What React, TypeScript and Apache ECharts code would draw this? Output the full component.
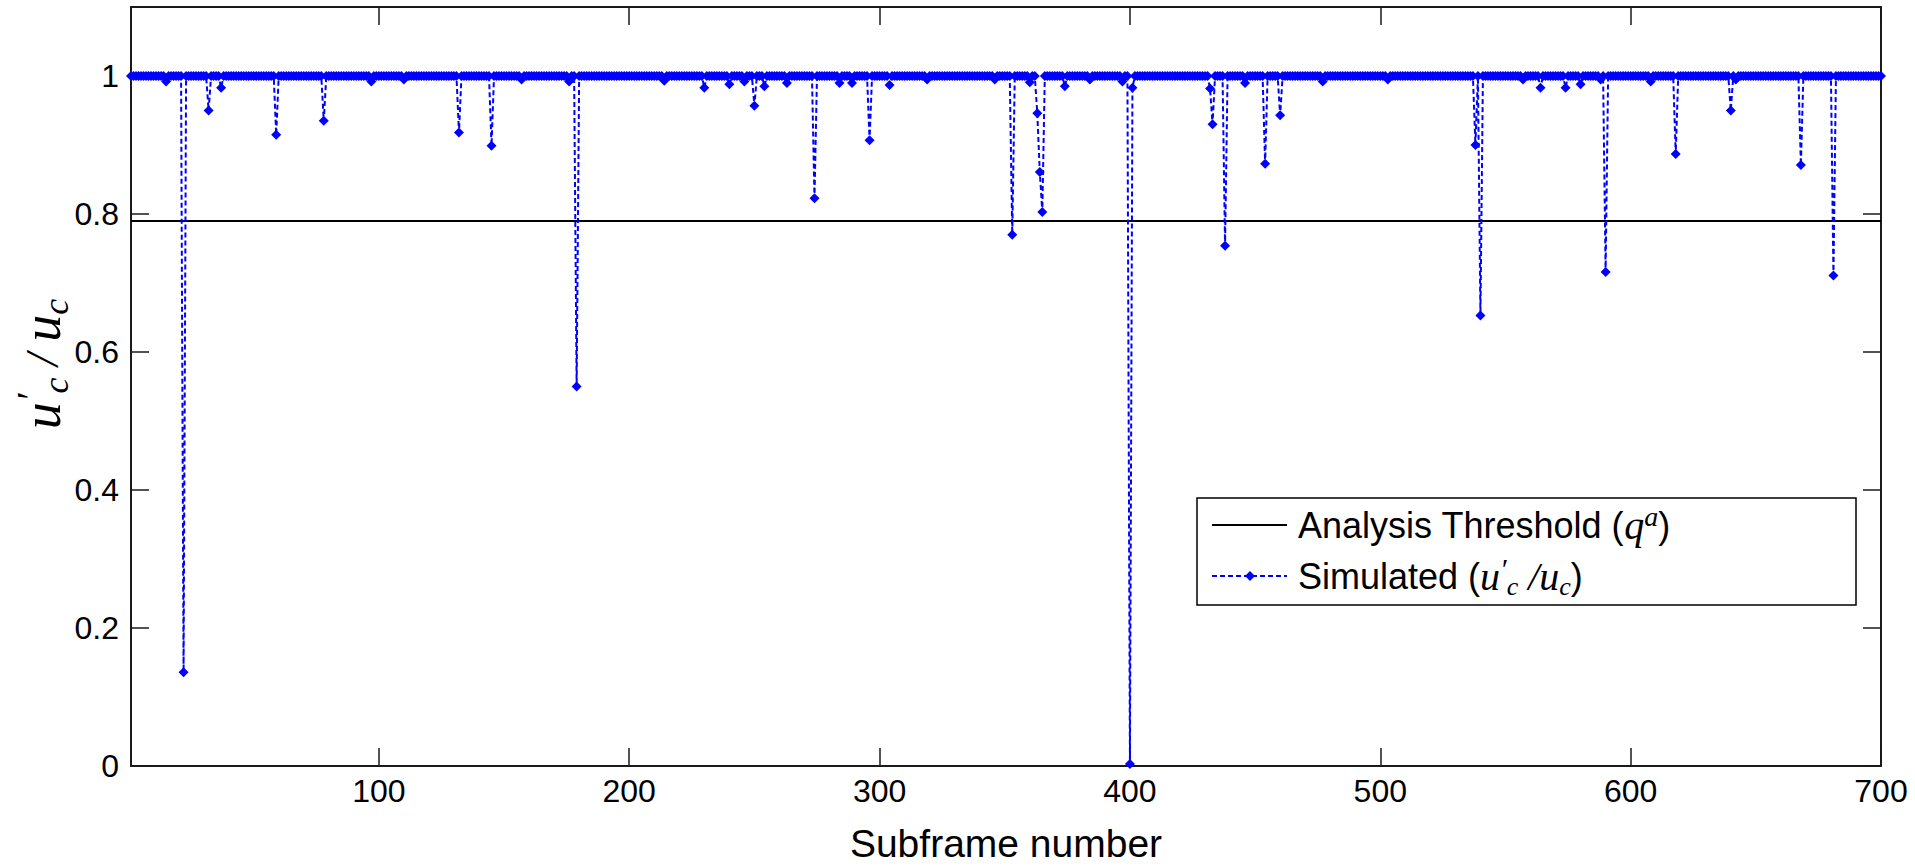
import React, { useEffect, useRef } from "react";
import * as echarts from "echarts";

// ---- data ----
const X_MIN = 1;
const X_MAX = 700;
const xTickValues = [100, 200, 300, 400, 500, 600, 700];
const Y_MIN = 0;
const Y_MAX = 1.1;
const Y_INTERVAL = 0.2;
const thresholdValue = 0.79;
const baselineValue = 1;

// subframes where the simulated ratio departs from 1
const dipSubframes = [
  15, 22, 32, 37, 59, 78, 97, 110, 132, 145, 157, 176, 179, 214, 230, 240, 246,
  250, 254, 263, 274, 284, 289, 296, 304, 319, 346, 353, 360, 363, 364, 365,
  374, 384, 397, 400, 401, 432, 433, 438, 446, 454, 460, 477, 503, 538, 540,
  557, 564, 574, 580, 588, 590, 608, 618, 640, 642, 668, 681,
];
const dipValues = [
  0.992, 0.136, 0.95, 0.983, 0.915, 0.935, 0.992, 0.995, 0.918, 0.899, 0.995,
  0.992, 0.55, 0.993, 0.983, 0.988, 0.992, 0.957, 0.985, 0.99, 0.823, 0.99,
  0.99, 0.907, 0.987, 0.995, 0.995, 0.77, 0.991, 0.946, 0.861, 0.803, 0.985,
  0.995, 0.992, 0.003, 0.983, 0.982, 0.93, 0.754, 0.99, 0.873, 0.943, 0.992,
  0.995, 0.9, 0.653, 0.995, 0.983, 0.983, 0.988, 0.995, 0.716, 0.992, 0.887,
  0.95, 0.995, 0.871, 0.711,
];

const thresholdName = "Analysis Threshold";
const simulatedName = "Simulated";
const xAxisTitle = "Subframe number";

function buildSimulated(): [number, number][] {
  const m = new Map<number, number>();
  dipSubframes.forEach((x, i) => m.set(x, dipValues[i]));
  const out: [number, number][] = [];
  for (let x = X_MIN; x <= X_MAX; x++) {
    out.push([x, m.has(x) ? (m.get(x) as number) : baselineValue]);
  }
  return out;
}

const SANS = "'Liberation Sans', Arial, sans-serif";
const SERIF = "'Liberation Serif', 'Times New Roman', serif";
const BLUE = "#0000ff";
const AXIS = "#1a1a1a";

export default function App() {
  const ref = useRef<HTMLDivElement>(null);

  useEffect(() => {
    document.body.style.margin = "0";
    const chart = echarts.init(ref.current as HTMLDivElement, undefined, {
      renderer: "svg",
    });

    const gridLeft = 131;
    const gridTop = 7;
    const gridW = 1750;
    const gridH = 769;

    const tickStyle = { show: true, inside: true, length: 18, lineStyle: { color: AXIS, width: 1.5 } };
    const yLabelFmt = (v: number) => {
      const k = v / Y_INTERVAL;
      return Math.abs(k - Math.round(k)) < 1e-6 && v <= 1.0001 ? String(Math.round(v * 10) / 10) : "";
    };

    const legX = 1197;
    const legY = 498;
    const legW = 659;
    const legH = 107;
    const row1 = 525;
    const row2 = 576;

    const option: any = {
      animation: false,
      backgroundColor: "#ffffff",
      grid: { left: gridLeft, top: gridTop, width: gridW, height: gridH, containLabel: false },
      xAxis: [
        {
          type: "value",
          min: X_MIN,
          max: X_MAX,
          position: "bottom",
          axisLine: { show: true, onZero: false, lineStyle: { color: AXIS, width: 2 } },
          axisTick: { ...tickStyle, customValues: xTickValues },
          axisLabel: {
            customValues: xTickValues,
            color: "#000",
            fontFamily: SANS,
            fontSize: 32,
            margin: 9,
          },
          splitLine: { show: false },
          name: xAxisTitle,
          nameLocation: "middle",
          nameGap: 58,
          nameTextStyle: { color: "#000", fontFamily: SANS, fontSize: 39 },
        },
        {
          type: "value",
          min: X_MIN,
          max: X_MAX,
          position: "top",
          axisLine: { show: true, onZero: false, lineStyle: { color: AXIS, width: 2 } },
          axisTick: { ...tickStyle, customValues: xTickValues },
          axisLabel: { show: false },
          splitLine: { show: false },
        },
      ],
      yAxis: [
        {
          type: "value",
          min: Y_MIN,
          max: Y_MAX,
          interval: Y_INTERVAL,
          position: "left",
          axisLine: { show: true, onZero: false, lineStyle: { color: AXIS, width: 2 } },
          axisTick: tickStyle,
          axisLabel: {
            formatter: yLabelFmt,
            color: "#000",
            fontFamily: SANS,
            fontSize: 32,
            margin: 12,
          },
          splitLine: { show: false },
        },
        {
          type: "value",
          min: Y_MIN,
          max: Y_MAX,
          interval: Y_INTERVAL,
          position: "right",
          axisLine: { show: true, onZero: false, lineStyle: { color: AXIS, width: 2 } },
          axisTick: tickStyle,
          axisLabel: { show: false },
          splitLine: { show: false },
        },
      ],
      series: [
        {
          name: thresholdName,
          type: "line",
          xAxisIndex: 0,
          yAxisIndex: 0,
          data: [
            [X_MIN, thresholdValue],
            [X_MAX, thresholdValue],
          ],
          symbol: "none",
          lineStyle: { color: "#000", width: 2 },
          silent: true,
        },
        {
          name: simulatedName,
          type: "line",
          xAxisIndex: 0,
          yAxisIndex: 0,
          data: buildSimulated(),
          symbol: "diamond",
          symbolSize: 10,
          showAllSymbol: true,
          itemStyle: { color: BLUE },
          lineStyle: { color: BLUE, width: 2, type: [5, 3] },
          silent: true,
          clip: false,
        },
      ],
      graphic: [
        {
          type: "text",
          x: 42,
          y: 364,
          rotation: Math.PI / 2,
          style: {
            text: "{u|u}{p|′}{s|c}{sl| / }{u|u}{s|c}",
            align: "center",
            verticalAlign: "middle",
            fill: "#000",
            rich: {
              u: { fontFamily: SERIF, fontStyle: "italic", fontSize: 54, lineHeight: 64, fill: "#000" },
              p: { fontFamily: SERIF, fontStyle: "italic", fontSize: 40, lineHeight: 64, verticalAlign: "top", fill: "#000" },
              s: { fontFamily: SERIF, fontStyle: "italic", fontSize: 36, lineHeight: 64, verticalAlign: "bottom", fill: "#000" },
              sl: { fontFamily: SERIF, fontStyle: "italic", fontSize: 46, lineHeight: 64, fill: "#000" },
            },
          },
        },
        {
          type: "rect",
          shape: { x: legX, y: legY, width: legW, height: legH },
          style: { fill: "#fff", stroke: "#000", lineWidth: 1.5 },
        },
        {
          type: "line",
          shape: { x1: 1212, y1: row1, x2: 1287, y2: row1 },
          style: { stroke: "#000", lineWidth: 2 },
        },
        {
          type: "line",
          shape: { x1: 1212, y1: row2, x2: 1287, y2: row2 },
          style: { stroke: BLUE, lineWidth: 2, lineDash: [5, 3] },
        },
        {
          type: "polygon",
          shape: { points: [[1250, row2 - 5], [1255, row2], [1250, row2 + 5], [1245, row2]] },
          style: { fill: BLUE },
        },
        {
          type: "text",
          x: 1298,
          y: row1,
          style: {
            text: "{n|Analysis Threshold (}{i|q}{a|a}{n|)}",
            verticalAlign: "middle",
            align: "left",
            rich: {
              n: { fontFamily: SANS, fontSize: 36, lineHeight: 46, fill: "#000" },
              i: { fontFamily: SERIF, fontStyle: "italic", fontSize: 40, lineHeight: 46, fill: "#000" },
              a: { fontFamily: SERIF, fontStyle: "italic", fontSize: 28, lineHeight: 46, verticalAlign: "top", fill: "#000" },
            },
          },
        },
        {
          type: "text",
          x: 1298,
          y: row2,
          style: {
            text: "{n|Simulated (}{i|u}{p|′}{s|c}{i| /u}{s|c}{n|)}",
            verticalAlign: "middle",
            align: "left",
            rich: {
              n: { fontFamily: SANS, fontSize: 36, lineHeight: 46, fill: "#000" },
              i: { fontFamily: SERIF, fontStyle: "italic", fontSize: 40, lineHeight: 46, fill: "#000" },
              p: { fontFamily: SERIF, fontStyle: "italic", fontSize: 30, lineHeight: 46, verticalAlign: "top", fill: "#000" },
              s: { fontFamily: SERIF, fontStyle: "italic", fontSize: 26, lineHeight: 46, verticalAlign: "bottom", fill: "#000" },
            },
          },
        },
      ],
    };

    chart.setOption(option);
    return () => chart.dispose();
  }, []);

  return (
    <div
      ref={ref}
      style={{ position: "absolute", left: 0, top: 0, width: 1915, height: 868, background: "#fff" }}
    />
  );
}
